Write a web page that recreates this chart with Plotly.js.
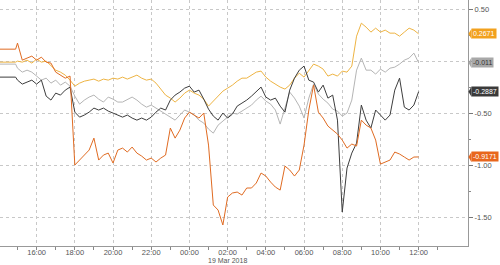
<!DOCTYPE html>
<html>
<head>
<meta charset="utf-8">
<script src="https://cdn.plot.ly/plotly-3.0.1.min.js"></script>
<style>html,body{margin:0;padding:0;background:#fff}#chart{width:500px;height:265px}</style>
</head>
<body>
<div id="chart"></div>
<script>
// sample times (18 Mar 2018 afternoon -> 19 Mar 2018 noon)
const times = [
"2018-03-18 14:05","2018-03-18 14:54",
"2018-03-18 15:00","2018-03-18 15:15","2018-03-18 15:30","2018-03-18 15:45",
"2018-03-18 16:00","2018-03-18 16:15","2018-03-18 16:30","2018-03-18 16:45",
"2018-03-18 17:00","2018-03-18 17:15","2018-03-18 17:30","2018-03-18 17:45",
"2018-03-18 18:00","2018-03-18 18:15","2018-03-18 18:30","2018-03-18 18:45",
"2018-03-18 19:00","2018-03-18 19:15","2018-03-18 19:30","2018-03-18 19:45",
"2018-03-18 20:00","2018-03-18 20:15","2018-03-18 20:30","2018-03-18 20:45",
"2018-03-18 21:00","2018-03-18 21:15","2018-03-18 21:30","2018-03-18 21:45",
"2018-03-18 22:00","2018-03-18 22:15","2018-03-18 22:30","2018-03-18 22:45",
"2018-03-18 23:00","2018-03-18 23:15","2018-03-18 23:30","2018-03-18 23:45",
"2018-03-19 00:00","2018-03-19 00:15","2018-03-19 00:30","2018-03-19 00:45",
"2018-03-19 01:00","2018-03-19 01:15","2018-03-19 01:30","2018-03-19 01:45",
"2018-03-19 02:00","2018-03-19 02:15","2018-03-19 02:30","2018-03-19 02:45",
"2018-03-19 03:00","2018-03-19 03:15","2018-03-19 03:30","2018-03-19 03:45",
"2018-03-19 04:00","2018-03-19 04:15","2018-03-19 04:30","2018-03-19 04:45",
"2018-03-19 05:00","2018-03-19 05:15","2018-03-19 05:30","2018-03-19 05:45",
"2018-03-19 06:00","2018-03-19 06:15","2018-03-19 06:30","2018-03-19 06:45",
"2018-03-19 07:00","2018-03-19 07:15","2018-03-19 07:30","2018-03-19 07:45",
"2018-03-19 08:00","2018-03-19 08:15","2018-03-19 08:30","2018-03-19 08:45",
"2018-03-19 09:00","2018-03-19 09:15","2018-03-19 09:30","2018-03-19 09:45",
"2018-03-19 10:00","2018-03-19 10:15","2018-03-19 10:30","2018-03-19 10:45",
"2018-03-19 11:00","2018-03-19 11:15","2018-03-19 11:30","2018-03-19 11:45",
"2018-03-19 12:00"
];

// gold series (ends 0.2671)
const seriesGold = [
-0.005,-0.005,
0.005,-0.005,0.014,-0.014,0.024,-0.005,0.005,-0.034,
-0.082,-0.101,-0.130,-0.178,-0.236,-0.207,-0.188,-0.178,
-0.168,-0.188,-0.168,-0.178,-0.159,-0.168,-0.149,-0.168,
-0.149,-0.130,-0.159,-0.178,-0.168,-0.207,-0.264,-0.322,
-0.351,-0.389,-0.351,-0.303,-0.274,-0.303,-0.322,-0.361,
-0.428,-0.380,-0.332,-0.284,-0.255,-0.226,-0.188,-0.159,
-0.159,-0.130,-0.101,-0.091,-0.149,-0.188,-0.216,-0.245,
-0.264,-0.226,-0.159,-0.111,-0.149,-0.082,-0.024,-0.043,
-0.072,-0.139,-0.120,-0.139,-0.091,-0.101,-0.043,0.245,
0.370,0.332,0.284,0.322,0.284,0.303,0.274,0.274,
0.245,0.284,0.322,0.303,0.2671
];

// light grey series (ends -0.011)
const seriesLightGrey = [
-0.024,-0.024,
-0.063,-0.101,-0.082,-0.101,-0.139,-0.178,-0.159,-0.207,
-0.178,-0.226,-0.197,-0.236,-0.332,-0.409,-0.370,-0.341,
-0.322,-0.361,-0.389,-0.341,-0.361,-0.389,-0.389,-0.361,
-0.341,-0.370,-0.409,-0.438,-0.418,-0.447,-0.476,-0.505,
-0.534,-0.563,-0.514,-0.466,-0.486,-0.514,-0.563,-0.591,
-0.649,-0.688,-0.611,-0.572,-0.534,-0.495,-0.505,-0.476,
-0.447,-0.418,-0.370,-0.332,-0.380,-0.409,-0.466,-0.601,
-0.447,-0.293,-0.351,-0.428,-0.543,-0.351,-0.216,-0.312,
-0.361,-0.399,-0.457,-0.476,-0.524,-0.495,-0.370,-0.082,
0.034,-0.082,-0.082,-0.120,-0.072,-0.101,-0.063,-0.053,
-0.024,0.014,0.034,0.082,-0.011
];

// dark grey series (ends -0.2887)
const seriesDarkGrey = [
-0.149,-0.149,
-0.178,-0.216,-0.197,-0.178,-0.216,-0.178,-0.332,-0.370,
-0.303,-0.322,-0.274,-0.245,-0.486,-0.534,-0.514,-0.486,
-0.447,-0.466,-0.447,-0.476,-0.495,-0.514,-0.534,-0.514,
-0.543,-0.563,-0.543,-0.563,-0.534,-0.486,-0.447,-0.466,
-0.370,-0.322,-0.293,-0.255,-0.236,-0.293,-0.274,-0.361,
-0.457,-0.524,-0.563,-0.495,-0.543,-0.505,-0.428,-0.399,
-0.370,-0.332,-0.284,-0.245,-0.341,-0.370,-0.351,-0.428,
-0.486,-0.274,-0.159,-0.082,-0.043,-0.178,-0.197,-0.293,
-0.226,-0.351,-0.322,-0.563,-1.447,-1.024,-0.880,-0.784,
-0.418,-0.563,-0.639,-0.466,-0.514,-0.563,-0.514,-0.274,
-0.159,-0.438,-0.466,-0.418,-0.2887
];

// dark orange series (ends -0.9171)
const seriesOrange = [
0.120,0.120,
0.178,0.014,0.034,0.053,0.014,0.043,-0.005,-0.014,
-0.101,-0.130,-0.159,-0.139,-0.995,-0.947,-0.899,-0.851,
-0.736,-0.947,-0.899,-0.880,-0.976,-0.851,-0.832,-0.870,
-0.822,-0.880,-0.909,-0.947,-0.928,-0.966,-0.928,-0.899,
-0.639,-0.736,-0.659,-0.543,-0.486,-0.514,-0.543,-0.495,
-0.803,-1.380,-1.428,-1.572,-1.303,-1.264,-1.255,-1.284,
-1.216,-1.216,-1.168,-1.072,-1.101,-1.159,-1.207,-1.236,
-1.005,-1.043,-1.101,-1.043,-0.803,-0.466,-0.226,-0.486,
-0.543,-0.620,-0.659,-0.697,-0.755,-0.832,-0.793,-0.812,
-0.563,-0.611,-0.639,-0.755,-0.986,-0.966,-0.947,-0.870,
-0.889,-0.918,-0.947,-0.918,-0.9171
];

const xTickVals = [
"2018-03-18 16:00","2018-03-18 18:00","2018-03-18 20:00","2018-03-18 22:00",
"2018-03-19 00:00","2018-03-19 02:00","2018-03-19 04:00","2018-03-19 06:00",
"2018-03-19 08:00","2018-03-19 10:00","2018-03-19 12:00"
];
const xTickText = ["16:00","18:00","20:00","22:00","00:00","02:00","04:00","06:00","08:00","10:00","12:00"];
const xMinorVals = [
"2018-03-18 15:00","2018-03-18 17:00","2018-03-18 19:00","2018-03-18 21:00",
"2018-03-18 23:00","2018-03-19 01:00","2018-03-19 03:00","2018-03-19 05:00",
"2018-03-19 07:00","2018-03-19 09:00","2018-03-19 11:00","2018-03-19 13:00"
];
const yTickVals = [0.5, 0, -0.5, -1, -1.5];
const yTickText = ["0.50","","-0.50","-1.00","-1.50"];   // 0.00 sits under the grey tag
const yMinorVals = [0.25, -0.25, -0.75, -1.25];
const dateLabel = "19 Mar 2018";

const lineDefs = [
  {y: seriesLightGrey, color: "#b5b5b5", tag: "#a8a8a8", txt: "#333333"},
  {y: seriesGold, color: "#eeb443", tag: "#f2a11e", txt: "#ffffff"},
  {y: seriesDarkGrey, color: "#3d3d3d", tag: "#3a3a3a", txt: "#ffffff"},
  {y: seriesOrange, color: "#e06b22", tag: "#e8661c", txt: "#ffffff"}
];

const traces = lineDefs.map(d => ({
  type: "scatter", mode: "lines", x: times, y: d.y,
  line: {color: d.color, width: 1}, hoverinfo: "skip", showlegend: false
}));

const annotations = lineDefs.map(d => {
  const v = d.y[d.y.length - 1];
  return {
    xref: "paper", yref: "y", x: 1, y: v, xanchor: "left", yanchor: "middle",
    xshift: 3, text: String(v), showarrow: false,
    font: {family: "Liberation Sans, Arial, sans-serif", size: 7, color: d.txt},
    bgcolor: d.tag, borderpad: 1
  };
});
annotations.push({
  xref: "x", yref: "paper", x: "2018-03-19 02:00", y: 0, yanchor: "top", yshift: -9,
  text: dateLabel, showarrow: false,
  font: {family: "Liberation Sans, Arial, sans-serif", size: 7, color: "#555"}
});

const shapes = lineDefs.map(d => {
  const v = d.y[d.y.length - 1];
  const h = 0.05;
  return {
    type: "path", xref: "paper", yref: "y",
    path: `M 1.001,${v} L 1.0075,${v + h} L 1.0075,${v - h} Z`,
    fillcolor: d.tag, line: {width: 0}
  };
});

const tickFont = {family: "Liberation Sans, Arial, sans-serif", size: 7.5, color: "#555"};

const layout = {
  width: 500, height: 265,
  margin: {l: 0, r: 32, t: 0, b: 19, pad: 0},
  paper_bgcolor: "#ffffff", plot_bgcolor: "#ffffff",
  showlegend: false,
  xaxis: {
    type: "date",
    range: ["2018-03-18 14:05", "2018-03-19 14:35"],
    tickmode: "array", tickvals: xTickVals, ticktext: xTickText,
    ticks: "outside", ticklen: 3, tickcolor: "#888", tickwidth: 1,
    ticklabelstandoff: -4,
    showline: true, linecolor: "#999", linewidth: 1,
    showgrid: true, gridcolor: "#c8c8c8", griddash: "dot", gridwidth: 1,
    zeroline: false, tickfont: tickFont,
    minor: {tickmode: "array", tickvals: xMinorVals, ticks: "outside", ticklen: 3, tickcolor: "#888", showgrid: false}
  },
  yaxis: {
    side: "right",
    range: [-1.774, 0.593],
    tickmode: "array", tickvals: yTickVals, ticktext: yTickText,
    ticks: "outside", ticklen: 4, tickcolor: "#777", tickwidth: 1,
    showline: true, linecolor: "#999", linewidth: 1,
    showgrid: true, gridcolor: "#c8c8c8", griddash: "dot", gridwidth: 1,
    zeroline: false, tickfont: tickFont,
    minor: {tickmode: "array", tickvals: yMinorVals, ticks: "outside", ticklen: 2, tickcolor: "#888", showgrid: false}
  },
  annotations: annotations,
  shapes: shapes
};

Plotly.newPlot("chart", traces, layout, {staticPlot: true, displayModeBar: false});
</script>
</body>
</html>
